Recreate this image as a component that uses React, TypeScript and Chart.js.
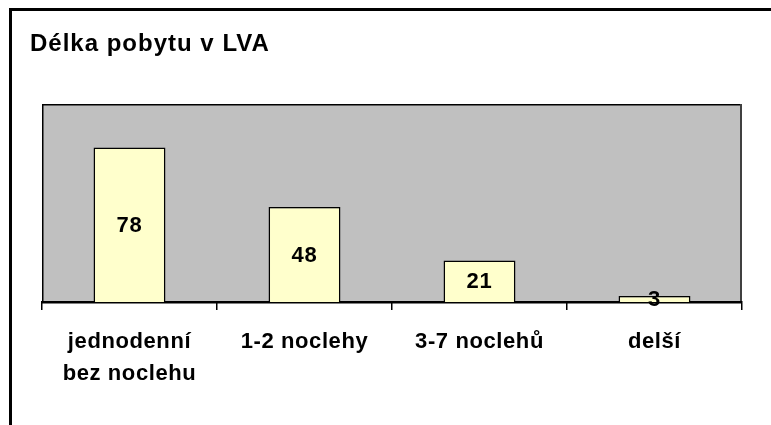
import React, { useEffect, useRef } from "react";
import { Chart, registerables } from "chart.js";

Chart.register(...registerables);

const titleText = "Délka pobytu v LVA";
const categories: (string | string[])[] = [
  ["jednodenní", "bez noclehu"],
  "1-2 noclehy",
  "3-7 noclehů",
  "delší",
];
const values = [78, 48, 21, 3];
const yMin = 0;
const yMax = 100;

const FONT = "'Liberation Sans', Arial, sans-serif";

const framePlugin = {
  id: "frame",
  beforeDraw(chart: any) {
    const { ctx, chartArea } = chart;
    ctx.save();
    ctx.fillStyle = "#ffffff";
    ctx.fillRect(0, 0, chart.width, chart.height);
    // outer frame (left + top)
    ctx.fillStyle = "#000000";
    ctx.fillRect(9, 8, 3, chart.height);
    ctx.fillRect(9, 8, chart.width, 3);
    // plot background
    ctx.fillStyle = "#C0C0C0";
    ctx.fillRect(chartArea.left, chartArea.top, chartArea.right - chartArea.left, chartArea.bottom - chartArea.top);
    ctx.strokeStyle = "#000000";
    ctx.lineWidth = 1.5;
    ctx.strokeRect(chartArea.left + 0.75, chartArea.top + 0.75, chartArea.right - chartArea.left - 1.5, chartArea.bottom - chartArea.top);
    ctx.strokeStyle = "#404040";
    ctx.lineWidth = 2;
    ctx.beginPath();
    ctx.moveTo(chartArea.right - 1, chartArea.top);
    ctx.lineTo(chartArea.right - 1, chartArea.bottom);
    ctx.stroke();
    // title
    ctx.fillStyle = "#000000";
    ctx.font = `bold 24px ${FONT}`;
    (ctx as any).letterSpacing = "1px";
    ctx.textAlign = "left";
    ctx.textBaseline = "alphabetic";
    ctx.fillText(titleText, 30, 51);
    ctx.restore();
    // slight letter spacing for the axis labels drawn afterwards
    (ctx as any).letterSpacing = "0.6px";
  },
};

const valueLabelPlugin = {
  id: "valueLabels",
  afterDatasetsDraw(chart: any) {
    const { ctx } = chart;
    const meta = chart.getDatasetMeta(0);
    const data = chart.data.datasets[0].data as number[];
    ctx.save();
    ctx.fillStyle = "#000000";
    ctx.font = `bold 22px ${FONT}`;
    (ctx as any).letterSpacing = "0.8px";
    ctx.textAlign = "center";
    ctx.textBaseline = "middle";
    meta.data.forEach((bar: any, i: number) => {
      const cy = (bar.y + bar.base) / 2;
      ctx.fillText(String(data[i]), bar.x, cy + 1);
    });
    ctx.restore();
  },
};

export default function App() {
  const ref = useRef<HTMLCanvasElement | null>(null);
  useEffect(() => {
    document.body.style.overflow = "hidden";
    const canvas = ref.current!;
    const chart = new Chart(canvas, {
      type: "bar",
      data: {
        labels: categories,
        datasets: [
          {
            data: values,
            backgroundColor: "#FFFFCC",
            borderColor: "#000000",
            borderWidth: 1.5,
            categoryPercentage: 1,
            barPercentage: 0.411,
          },
        ],
      },
      options: {
        responsive: false,
        animation: false,
        layout: { padding: { left: 42, right: 29, top: 104, bottom: 0 } },
        plugins: {
          legend: { display: false },
          title: { display: false },
          tooltip: { enabled: false },
        },
        scales: {
          x: {
            afterFit(scale: any) {
              scale.height = 123;
            },
            grid: {
              offset: true,
              drawOnChartArea: false,
              drawTicks: true,
              tickLength: 8,
              color: "#000000",
              lineWidth: 1.5,
            },
            border: { display: true, color: "#000000", width: 2 },
            ticks: {
              color: "#000000",
              padding: 16,
              maxRotation: 0,
              autoSkip: false,
              font: { family: FONT, size: 22, weight: "bold", lineHeight: 1.45 },
            },
          },
          y: {
            display: false,
            min: yMin,
            max: yMax,
          },
        },
      },
      plugins: [framePlugin, valueLabelPlugin],
    } as any);
    return () => chart.destroy();
  }, []);
  return (
    <canvas
      ref={ref}
      width={771}
      height={425}
      style={{ position: "fixed", left: 0, top: 0, width: 771, height: 425 }}
    />
  );
}
